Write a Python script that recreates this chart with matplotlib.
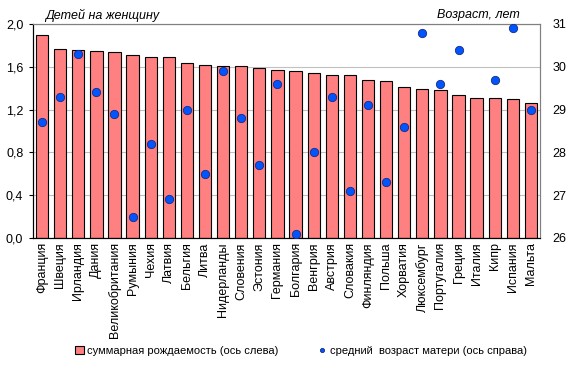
import numpy as np
import matplotlib
matplotlib.use('Agg')
from matplotlib import pyplot as plt

plt.rcParams['font.family'] = ['Liberation Sans', 'DejaVu Sans']
plt.rcParams['font.size'] = 8.5

countries = ['Франция', 'Швеция', 'Ирландия', 'Дания', 'Великобритания', 'Румыния',
             'Чехия', 'Латвия', 'Бельгия', 'Литва', 'Нидерланды', 'Словения',
             'Эстония', 'Германия', 'Болгария', 'Венгрия', 'Австрия', 'Словакия',
             'Финляндия', 'Польша', 'Хорватия', 'Люксембург', 'Португалия', 'Греция',
             'Италия', 'Кипр', 'Испания', 'Мальта']
fertility = [1.90, 1.77, 1.76, 1.75, 1.74, 1.71, 1.69, 1.69, 1.64, 1.62, 1.61, 1.61,
             1.59, 1.57, 1.56, 1.54, 1.52, 1.52, 1.48, 1.47, 1.41, 1.39, 1.38, 1.34,
             1.31, 1.31, 1.30, 1.26]
mother_age = [28.7, 29.3, 30.3, 29.4, 28.9, 26.5, 28.2, 26.9, 29.0, 27.5, 29.9, 28.8,
              27.7, 29.6, 26.1, 28.0, 29.3, 27.1, 29.1, 27.3, 28.6, 30.8, 29.6, 30.4,
              np.nan, 29.7, 30.9, 29.0]

x = np.arange(len(countries))

fig = plt.figure(figsize=(5.72, 3.72), dpi=100)
ax = fig.add_axes([33/572, 1-238/372, (540-33)/572, (238-24)/372])
ax2 = ax.twinx()

ax.bar(x, fertility, width=0.68, color='#FF8080', edgecolor='black', linewidth=0.8,
       label='суммарная рождаемость (ось слева)', zorder=2)
ax2.plot(x, mother_age, 'o', color='#0055FF', markeredgecolor='#1a2a80', markeredgewidth=0.6,
         markersize=6, label='средний  возраст матери (ось справа)', zorder=3)

ax.set_xlim(-0.5, len(countries) - 0.5)
ax.set_ylim(0, 2.0)
ax2.set_ylim(26, 31)
ax.set_yticks(np.arange(0, 2.01, 0.4))
ax.set_yticklabels([f'{v:.1f}'.replace('.', ',') for v in np.arange(0, 2.01, 0.4)])
ax2.set_yticks(range(26, 32))
ax.yaxis.grid(True, color='#c0c0c0', linewidth=0.8, zorder=0)
ax.set_axisbelow(True)

ax.set_xticks(x)
ax.set_xticklabels(countries, rotation=90, fontsize=9)
ax.tick_params(axis='x', length=0, pad=3)
ax.tick_params(axis='y', length=3, pad=4, labelsize=9)
ax2.tick_params(axis='y', length=0, pad=9, labelsize=9)

for a in (ax, ax2):
    a.spines['top'].set_color('#808080')
    a.spines['right'].set_color('#808080')
    a.spines['left'].set_color('black')
    a.spines['bottom'].set_color('black')

fig.text(45/572, 1-15/372, 'Детей на женщину', style='italic', fontsize=9, va='center')
fig.text(520/572, 1-15/372, 'Возраст, лет', style='italic', fontsize=9, va='center', ha='right')

h1, l1 = ax.get_legend_handles_labels()
h2, l2 = ax2.get_legend_handles_labels()
fig.legend(h1 + h2, l1 + l2, loc='center', bbox_to_anchor=(301/572, 1-351/372), ncol=2,
           frameon=False, fontsize=8, handlelength=0.8, handletextpad=0.3,
           columnspacing=3.5, markerscale=0.5)

fig.savefig('out.png', dpi=100)
